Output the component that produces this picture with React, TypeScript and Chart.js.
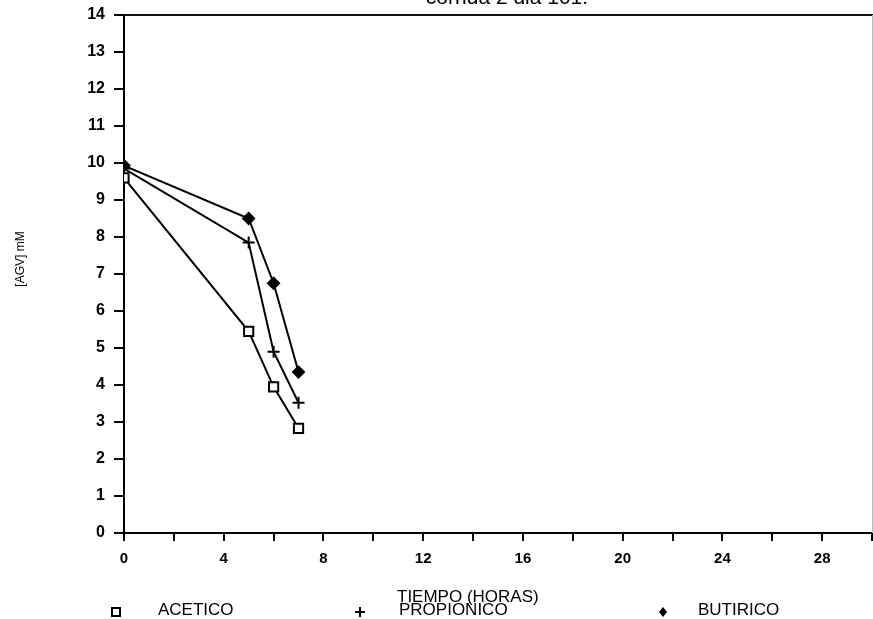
import React, { useEffect, useRef } from "react";
import { Chart, registerables } from "chart.js";

Chart.register(...registerables);

const chartTitle = "corrida 2 dia 101.";
const xTitle = "TIEMPO (HORAS)";
const yTitle = "[AGV] mM";

const seriesNames = ["ACETICO", "PROPIONICO", "BUTIRICO"];
const tiempo = [0, 5, 6, 7];
const acetico = [9.6, 5.45, 3.95, 2.83];
const propionico = [9.85, 7.85, 4.9, 3.52];
const butirico = [9.93, 8.5, 6.75, 4.35];

const xMin = 0;
const xMax = 30;
const xStep = 2;
const xLabelEvery = 4;
const yMin = 0;
const yMax = 14;
const yStep = 1;

const FONT = "'Liberation Sans', Arial, sans-serif";

const legendX = [116, 360, 663];
const legendTextX = [158, 399, 698];

const drawMarker = (ctx: CanvasRenderingContext2D, style: string, x: number, y: number) => {
  ctx.save();
  ctx.strokeStyle = "#000";
  ctx.fillStyle = "#000";
  ctx.lineWidth = 2;
  if (style === "rect") {
    ctx.fillStyle = "#fff";
    ctx.fillRect(x - 4, y - 4, 8, 8);
    ctx.strokeRect(x - 4, y - 4, 8, 8);
  } else if (style === "cross") {
    ctx.beginPath();
    ctx.moveTo(x - 5, y);
    ctx.lineTo(x + 5, y);
    ctx.moveTo(x, y - 5);
    ctx.lineTo(x, y + 5);
    ctx.stroke();
  } else {
    ctx.beginPath();
    ctx.moveTo(x, y - 5);
    ctx.lineTo(x + 4, y);
    ctx.lineTo(x, y + 5);
    ctx.lineTo(x - 4, y);
    ctx.closePath();
    ctx.fill();
  }
  ctx.restore();
};

const decorPlugin = {
  id: "decor",
  afterDraw(chart: any) {
    const { ctx, chartArea } = chart;
    const w = chart.width;
    ctx.save();
    // top frame line
    ctx.strokeStyle = "#111";
    ctx.lineWidth = 2;
    ctx.beginPath();
    ctx.moveTo(chartArea.left, chartArea.top);
    ctx.lineTo(w, chartArea.top);
    ctx.stroke();
    // faint right frame
    ctx.strokeStyle = "#bbb";
    ctx.lineWidth = 1;
    ctx.beginPath();
    ctx.moveTo(w - 0.5, chartArea.top);
    ctx.lineTo(w - 0.5, chartArea.bottom);
    ctx.stroke();
    // chart title (cut at top)
    ctx.fillStyle = "#000";
    ctx.font = `21px ${FONT}`;
    ctx.textAlign = "center";
    ctx.textBaseline = "alphabetic";
    ctx.fillText(chartTitle, 507, 4);
    // x title
    ctx.font = `17px ${FONT}`;
    ctx.textAlign = "left";
    ctx.textBaseline = "alphabetic";
    ctx.fillText(xTitle, 397, 602);
    // y title
    ctx.save();
    ctx.translate(21, 259);
    ctx.rotate(-Math.PI / 2);
    ctx.textAlign = "center";
    ctx.textBaseline = "middle";
    ctx.font = `12px ${FONT}`;
    ctx.fillText(yTitle, 0, 0);
    ctx.restore();
    // legend
    chart.data.datasets.forEach((ds: any, i: number) => {
      drawMarker(ctx, ds.pointStyle, legendX[i], 612);
      ctx.font = `17px ${FONT}`;
      ctx.textAlign = "left";
      ctx.textBaseline = "alphabetic";
      ctx.fillStyle = "#000";
      ctx.fillText(ds.label, legendTextX[i], 615);
    });
    ctx.restore();
  },
};

export default function App() {
  const ref = useRef<HTMLCanvasElement>(null);
  useEffect(() => {
    document.body.style.margin = "0";
    const toPts = (ys: number[]) => ys.map((y, i) => ({ x: tiempo[i], y }));
    const chart = new Chart(ref.current!, {
      type: "line",
      data: {
        datasets: [
          {
            label: seriesNames[0],
            data: toPts(acetico),
            borderColor: "#000",
            borderWidth: 2,
            pointStyle: "rect",
            pointRadius: 6.5,
            pointBorderWidth: 2,
            pointBorderColor: "#000",
            pointBackgroundColor: "#fff",
          },
          {
            label: seriesNames[1],
            data: toPts(propionico),
            borderColor: "#000",
            borderWidth: 2,
            pointStyle: "cross",
            pointRadius: 6,
            pointBorderWidth: 2,
            pointBorderColor: "#000",
            pointBackgroundColor: "#000",
          },
          {
            label: seriesNames[2],
            data: toPts(butirico),
            borderColor: "#000",
            borderWidth: 2,
            pointStyle: "rectRot",
            pointRadius: 5.5,
            pointBorderWidth: 2,
            pointBorderColor: "#000",
            pointBackgroundColor: "#000",
          },
        ] as any,
      },
      options: {
        animation: false,
        responsive: false,
        layout: { autoPadding: false, padding: { left: 0, right: 1, top: 15, bottom: 0 } },
        plugins: { legend: { display: false }, title: { display: false }, tooltip: { enabled: false } },
        elements: { line: { tension: 0 } },
        scales: {
          x: {
            type: "linear",
            min: xMin,
            max: xMax,
            afterFit: (s: any) => { s.height = 86; s.paddingLeft = 0; s.paddingRight = 0; },
            border: { display: true, color: "#000", width: 2 },
            grid: { display: true, drawOnChartArea: false, drawTicks: true, tickLength: 8, color: "#000", lineWidth: 2 },
            ticks: {
              stepSize: xStep,
              autoSkip: false,
              maxRotation: 0,
              color: "#000",
              padding: 9,
              font: { family: FONT, size: 15, weight: "bold" },
              callback: (v: any) => (v % xLabelEvery === 0 && v < xMax ? String(v) : ""),
            },
          },
          y: {
            type: "linear",
            min: yMin,
            max: yMax,
            afterFit: (s: any) => { s.width = 124; s.paddingTop = 0; s.paddingBottom = 0; },
            border: { display: true, color: "#000", width: 2 },
            grid: { display: true, drawOnChartArea: false, drawTicks: true, tickLength: 10, color: "#000", lineWidth: 2 },
            ticks: {
              stepSize: yStep,
              color: "#000",
              padding: 9,
              font: { family: FONT, size: 16, weight: "bold" },
            },
          },
        },
      },
      plugins: [decorPlugin],
    });
    return () => chart.destroy();
  }, []);
  return (
    <div style={{ position: "fixed", left: 0, top: 0, width: 873, height: 619, background: "#fff" }}>
      <canvas ref={ref} width={873} height={619} />
    </div>
  );
}
